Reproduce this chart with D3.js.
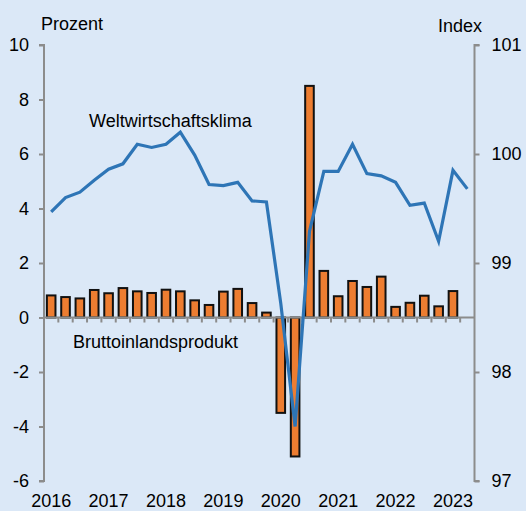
<!DOCTYPE html>
<html><head><meta charset="utf-8">
<script src="https://cdn.jsdelivr.net/npm/d3@7"></script>
<style>
html,body{margin:0;padding:0;background:#dbe8f7;}
svg{display:block;font-family:"Liberation Sans",Arial,sans-serif;}
</style></head>
<body>
<svg id="chart" width="526" height="511"></svg>
<script>
const quarters = [
 "2016Q1","2016Q2","2016Q3","2016Q4","2017Q1","2017Q2","2017Q3","2017Q4",
 "2018Q1","2018Q2","2018Q3","2018Q4","2019Q1","2019Q2","2019Q3","2019Q4",
 "2020Q1","2020Q2","2020Q3","2020Q4","2021Q1","2021Q2","2021Q3","2021Q4",
 "2022Q1","2022Q2","2022Q3","2022Q4","2023Q1","2023Q2"];
// Bruttoinlandsprodukt (Prozent, left axis)
const gdp = [0.81,0.75,0.70,1.01,0.89,1.08,0.96,0.90,1.02,0.96,0.63,0.46,0.95,1.05,0.53,0.18,
 -3.5,-5.1,8.5,1.71,0.78,1.34,1.12,1.50,0.39,0.54,0.80,0.41,0.97,null];
// Weltwirtschaftsklima (Index, right axis)
const klima = [99.47,99.60,99.65,99.76,99.86,99.91,100.09,100.06,100.09,100.20,99.99,99.72,99.71,99.74,99.57,99.56,
 98.63,97.50,99.29,99.84,99.84,100.09,99.82,99.80,99.74,99.53,99.55,99.20,99.85,99.68];
const leftTicks = [-6,-4,-2,0,2,4,6,8,10];
const rightTicks = [97,98,99,100,101];
const yearLabels = ["2016","2017","2018","2019","2020","2021","2022","2023"];

const svg = d3.select("#chart");
const L = 44, R = 474.5, T = 45, B = 481;
const gray = "#8c8c8c";
const FS = 18;

const x = d3.scaleBand().domain(quarters).range([L, R]).paddingInner(0.4).paddingOuter(0.2);
const yL = d3.scaleLinear().domain([-6,10]).range([B,T]);
const yR = d3.scaleLinear().domain([97,101]).range([B,T]);
const step = x.step();

// bars
svg.append("g").selectAll("rect").data(quarters.map((q,i)=>({q, v:gdp[i]})).filter(d=>d.v!==null))
 .join("rect")
 .attr("x", d=>x(d.q)).attr("width", x.bandwidth())
 .attr("y", d=>yL(Math.max(0,d.v))).attr("height", d=>Math.abs(yL(d.v)-yL(0)))
 .attr("fill","#ed7d31").attr("stroke","#111").attr("stroke-width",2);

// zero line with category ticks
const zg = svg.append("g").attr("stroke", gray).attr("stroke-width",2);
zg.append("line").attr("x1",L).attr("x2",R).attr("y1",yL(0)).attr("y2",yL(0));
const bounds = d3.range(1, quarters.length).map(i => L + i*step);
zg.selectAll("line.t").data(bounds).join("line").attr("class","t")
 .attr("x1",d=>d).attr("x2",d=>d).attr("y1",yL(0)).attr("y2",yL(0)+5);

// left axis
const axL = svg.append("g").attr("transform",`translate(${L},0)`)
 .call(d3.axisLeft(yL).tickValues(leftTicks).tickSize(5).tickPadding(10).tickFormat(d3.format("d")));
axL.select(".domain").attr("stroke",gray).attr("stroke-width",2).attr("d",`M-5,${T}H0V${B}H-5`);
axL.selectAll(".tick line").attr("stroke",gray).attr("stroke-width",2);
axL.selectAll(".tick text").attr("font-size",FS).attr("fill","#000").attr("font-family","Liberation Sans, Arial, sans-serif").text(d=> d<0 ? "-"+Math.abs(d) : d);

// right axis
const axR = svg.append("g").attr("transform",`translate(${R},0)`)
 .call(d3.axisRight(yR).tickValues(rightTicks).tickSize(5).tickPadding(12).tickFormat(d3.format("d")));
axR.select(".domain").attr("stroke",gray).attr("stroke-width",2).attr("d",`M5,${T}H0V${B}H5`);
axR.selectAll(".tick line").attr("stroke",gray).attr("stroke-width",2);
axR.selectAll(".tick text").attr("font-size",FS).attr("fill","#000").attr("font-family","Liberation Sans, Arial, sans-serif");

// line
const line = d3.line().x((d,i)=>x(quarters[i]) + x.bandwidth()/2).y(d=>yR(d));
svg.append("path").datum(klima).attr("d",line).attr("fill","none")
 .attr("stroke","#2e75b6").attr("stroke-width",3.2).attr("stroke-linejoin","miter");

// year labels
svg.append("g").selectAll("text").data(yearLabels).join("text")
 .attr("x", d=>x(d+"Q1")+x.bandwidth()/2).attr("y",507)
 .attr("text-anchor","middle").attr("font-size",FS).text(d=>d);

// titles
svg.append("text").attr("x",41).attr("y",30).attr("font-size",FS).text("Prozent");
svg.append("text").attr("x",482).attr("y",32).attr("text-anchor","end").attr("font-size",FS).text("Index");
svg.append("text").attr("x",89).attr("y",127).attr("font-size",FS).text("Weltwirtschaftsklima");
svg.append("text").attr("x",73).attr("y",348).attr("font-size",FS).text("Bruttoinlandsprodukt");
</script>
</body></html>
